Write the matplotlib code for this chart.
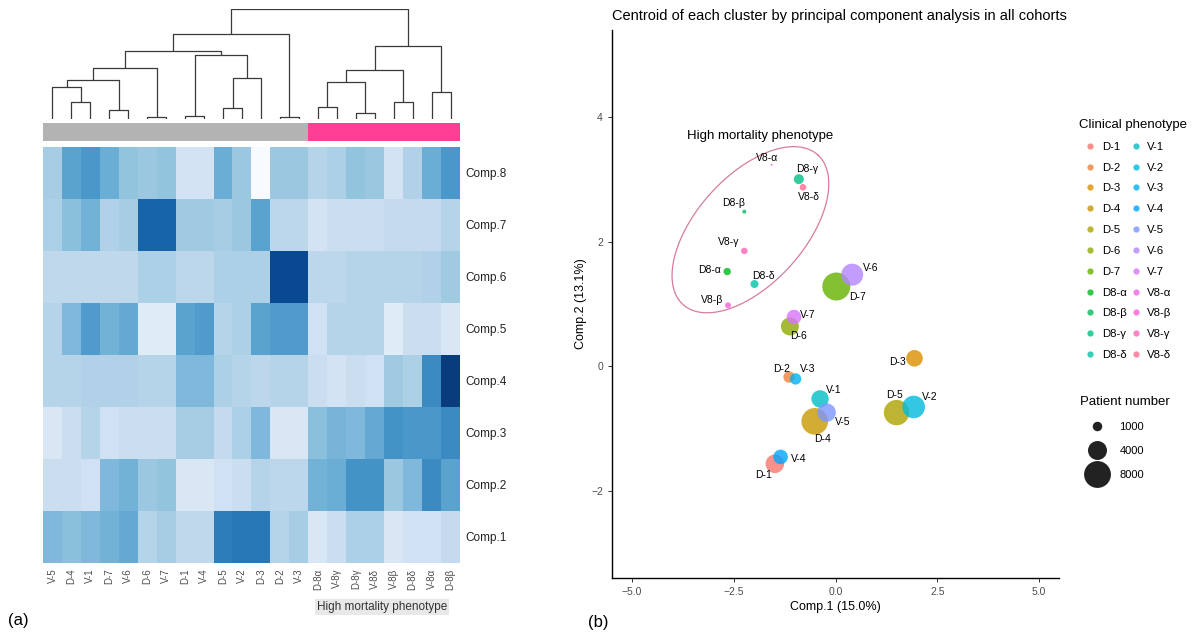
import numpy as np
import matplotlib
matplotlib.use('Agg')
import matplotlib.pyplot as plt
from matplotlib.lines import Line2D

plt.rcParams['font.family'] = ['Liberation Sans', 'DejaVu Sans']

# ---------------- panel (a): heatmap data ----------------
samples = ['V-5', 'D-4', 'V-1', 'D-7', 'V-6', 'D-6', 'V-7', 'D-1', 'V-4', 'D-5', 'V-2',
           'D-3', 'D-2', 'V-3', 'D-8α', 'V-8γ', 'D-8γ', 'V-8δ', 'V-8β', 'D-8δ', 'V-8α', 'D-8β']
high_mortality = [0] * 14 + [1] * 8
components = ['Comp.1', 'Comp.2', 'Comp.3', 'Comp.4', 'Comp.5', 'Comp.6', 'Comp.7', 'Comp.8']

comp1 = [0.45, 0.42, 0.45, 0.48, 0.52, 0.30, 0.35, 0.27, 0.27, 0.70, 0.72, 0.72, 0.30, 0.35,
         0.15, 0.22, 0.33, 0.33, 0.15, 0.20, 0.20, 0.25]
comp2 = [0.22, 0.22, 0.20, 0.45, 0.48, 0.38, 0.40, 0.15, 0.15, 0.20, 0.22, 0.30, 0.28, 0.28,
         0.48, 0.50, 0.62, 0.62, 0.38, 0.45, 0.65, 0.55]
comp3 = [0.15, 0.22, 0.30, 0.20, 0.22, 0.22, 0.22, 0.35, 0.35, 0.25, 0.33, 0.45, 0.15, 0.15,
         0.42, 0.47, 0.45, 0.52, 0.62, 0.60, 0.60, 0.65]
comp4 = [0.30, 0.30, 0.32, 0.32, 0.32, 0.30, 0.30, 0.45, 0.45, 0.33, 0.30, 0.28, 0.30, 0.30,
         0.22, 0.18, 0.22, 0.20, 0.37, 0.33, 0.65, 0.95]
comp5 = [0.30, 0.45, 0.58, 0.48, 0.52, 0.12, 0.12, 0.55, 0.58, 0.30, 0.33, 0.55, 0.58, 0.58,
         0.20, 0.30, 0.30, 0.30, 0.12, 0.22, 0.22, 0.15]
comp6 = [0.27, 0.27, 0.27, 0.27, 0.27, 0.33, 0.33, 0.28, 0.28, 0.33, 0.33, 0.33, 0.90, 0.90,
         0.28, 0.28, 0.30, 0.30, 0.30, 0.30, 0.32, 0.37]
comp7 = [0.33, 0.42, 0.48, 0.32, 0.35, 0.80, 0.80, 0.37, 0.37, 0.35, 0.38, 0.55, 0.28, 0.28,
         0.18, 0.22, 0.22, 0.22, 0.25, 0.25, 0.25, 0.30]
comp8 = [0.35, 0.55, 0.60, 0.50, 0.40, 0.38, 0.40, 0.18, 0.18, 0.50, 0.38, 0.00, 0.38, 0.38,
         0.30, 0.33, 0.40, 0.38, 0.18, 0.32, 0.50, 0.60]

# hierarchical clustering of the columns: (node a, node b, merge height); leaves are 0..21
linkage = [
    (1, 2, 50), (0, 22, 97), (3, 4, 27), (23, 24, 117), (5, 6, 7), (25, 26, 154),
    (7, 8, 10), (9, 10, 32), (29, 11, 122), (28, 30, 190), (27, 31, 202), (12, 13, 7),
    (32, 33, 254), (14, 15, 35), (16, 17, 19), (35, 36, 112), (18, 19, 50), (37, 38, 147),
    (20, 21, 82), (39, 40, 219), (34, 41, 329),
]

# ---------------- panel (b): PCA centroids ----------------
phenotypes = ['D-1', 'D-2', 'D-3', 'D-4', 'D-5', 'D-6', 'D-7', 'D8-α', 'D8-β', 'D8-γ', 'D8-δ',
              'V-1', 'V-2', 'V-3', 'V-4', 'V-5', 'V-6', 'V-7', 'V8-α', 'V8-β', 'V8-γ', 'V8-δ']
pc1 = [-1.49, -1.14, 1.94, -0.51, 1.50, -1.12, 0.02, -2.66, -2.24, -0.90, -1.99,
       -0.38, 1.92, -0.98, -1.35, -0.22, 0.41, -1.02, -1.57, -2.64, -2.24, -0.80]
pc2 = [-1.56, -0.17, 0.13, -0.88, -0.74, 0.64, 1.28, 1.52, 2.48, 3.00, 1.32,
       -0.52, -0.65, -0.20, -1.45, -0.74, 1.47, 0.79, 3.23, 0.98, 1.85, 2.87]
patients = [3840, 1440, 3060, 7860, 7170, 3600, 8710, 610, 180, 1110, 710,
            3360, 5680, 1440, 2370, 3840, 5380, 2370, 45, 400, 480, 480]
size_breaks = [1000, 4000, 8000]

# label offsets (pixels) for the point labels
label_offsets = {
    'D-1': (-11, -11), 'D-2': (-8, 8), 'D-3': (-17, -4), 'D-4': (8, -18), 'D-5': (-2, 18),
    'D-6': (9, -10), 'D-7': (21, -10), 'D8-α': (-18, 2), 'D8-β': (-11, 9), 'D8-γ': (8, 10),
    'D8-δ': (9, 8), 'V-1': (14, 9), 'V-2': (16, 10), 'V-3': (12, 10), 'V-4': (18, -2),
    'V-5': (16, -9), 'V-6': (19, 7), 'V-7': (14, 2), 'V8-α': (-5, 7), 'V8-β': (-16, 5),
    'V8-γ': (-16, 9), 'V8-δ': (6, -10),
}
# high mortality ellipse: centre (data), semi-axes in pixels, angle in degrees
ell_center = (-2.09, 2.19)
ell_axes = (100.7, 53.9)
ell_angle = 48


def hue_colors(n, l=65, c=100):
    # ggplot2 default hue palette (HCL -> sRGB)
    hues = 15 + np.arange(n) * 360 / n
    xn, yn, zn = 95.047, 100.0, 108.883
    un = 4 * xn / (xn + 15 * yn + 3 * zn)
    vn = 9 * yn / (xn + 15 * yn + 3 * zn)
    out = []
    for h in hues:
        u = c * np.cos(np.radians(h))
        v = c * np.sin(np.radians(h))
        y = yn * ((l + 16) / 116) ** 3
        up = u / (13 * l) + un
        vp = v / (13 * l) + vn
        x = y * 9 * up / (4 * vp)
        z = y * (12 - 3 * up - 20 * vp) / (4 * vp)
        xyz = np.array([x, y, z]) / 100
        m = np.array([[3.2404542, -1.5371385, -0.4985314],
                      [-0.9692660, 1.8760108, 0.0415560],
                      [0.0556434, -0.2040259, 1.0572252]])
        rgb = m @ xyz
        rgb = np.where(rgb <= 0.0031308, 12.92 * rgb, 1.055 * np.power(np.clip(rgb, 0, None), 1 / 2.4) - 0.055)
        out.append(tuple(np.clip(rgb, 0, 1)))
    return out


def marker_area(n):
    return 0.0467 * np.asarray(n, dtype=float)


W, H = 1198, 636
fig = plt.figure(figsize=(W / 100, H / 100), dpi=100)


def px_axes(left, top, right, bottom):
    return fig.add_axes([left / W, 1 - bottom / H, (right - left) / W, (bottom - top) / H])


# ---- dendrogram ----
ax_d = px_axes(43, 9, 460, 119)
ncol = len(samples)
node_x = {i: i + 0.5 for i in range(ncol)}
node_h = {i: 0.0 for i in range(ncol)}
for k, (a, b, h) in enumerate(linkage):
    idx = ncol + k
    xa, xb = node_x[a], node_x[b]
    ax_d.plot([xa, xa, xb, xb], [node_h[a], h, h, node_h[b]], color='#3a3a3a', lw=0.9,
              solid_capstyle='butt')
    node_x[idx] = (xa + xb) / 2
    node_h[idx] = h
ax_d.set_xlim(0, ncol)
ax_d.set_ylim(0, max(h for _, _, h in linkage))
ax_d.axis('off')

# ---- annotation strip ----
ax_s = px_axes(43, 123, 460, 141)
strip_colors = ['#B3B3B3' if g == 0 else '#FF3E96' for g in high_mortality]
ax_s.bar(np.arange(ncol) + 0.5, 1, width=1.0, color=strip_colors, edgecolor='none')
ax_s.set_xlim(0, ncol)
ax_s.set_ylim(0, 1)
ax_s.axis('off')

# ---- heatmap ----
ax_h = px_axes(43, 147, 460, 563)
rows = [comp8, comp7, comp6, comp5, comp4, comp3, comp2, comp1]
ax_h.imshow(np.array(rows), cmap='Blues', vmin=0, vmax=1, aspect='auto',
            interpolation='nearest', extent=(0, ncol, len(rows), 0))
ax_h.set_xticks(np.arange(ncol) + 0.5)
ax_h.set_xticklabels(samples, rotation=90, fontsize=7, color='#4d4d4d')
ax_h.set_yticks(np.arange(len(rows)) + 0.5)
ax_h.set_yticklabels(components[::-1], fontsize=8.5, color='#222222')
ax_h.yaxis.tick_right()
ax_h.tick_params(length=0, pad=4)
for sp in ax_h.spines.values():
    sp.set_visible(False)

fig.text(382 / W, 1 - 607 / H, 'High mortality phenotype', fontsize=8.5, color='#333333',
         ha='center', va='center',
         bbox=dict(facecolor='#E8E8E8', edgecolor='none', boxstyle='square,pad=0.2'))
fig.text(8 / W, 1 - 620 / H, '(a)', fontsize=12, ha='left', va='center')
fig.text(588 / W, 1 - 622 / H, '(b)', fontsize=12, ha='left', va='center')

# ---- PCA scatter ----
ax = px_axes(612, 30, 1059, 578)
colors = hue_colors(len(phenotypes))
ax.scatter(pc1, pc2, s=marker_area(patients), c=colors, alpha=0.8, edgecolors='none', zorder=3)
ax.set_xlim(-5.49, 5.49)
ax.set_ylim(-3.39, 5.39)
ax.set_xticks([-5.0, -2.5, 0.0, 2.5, 5.0])
ax.set_xticklabels(['−5.0', '−2.5', '0.0', '2.5', '5.0'])
ax.set_yticks([-2, 0, 2, 4])
ax.set_yticklabels(['−2', '0', '2', '4'])
ax.tick_params(labelsize=7.5, labelcolor='#4d4d4d', color='#333333', length=3, width=0.7)
for side in ['top', 'right']:
    ax.spines[side].set_visible(False)
for side in ['left', 'bottom']:
    ax.spines[side].set_linewidth(1.0)
ax.set_xlabel('Comp.1 (15.0%)', fontsize=9, labelpad=3)
ax.set_ylabel('Comp.2 (13.1%)', fontsize=9, labelpad=3)
ax.set_title('Centroid of each cluster by principal component analysis in all cohorts',
             fontsize=10.5, loc='left', pad=7)

for name, x, y in zip(phenotypes, pc1, pc2):
    dx, dy = label_offsets[name]
    ax.annotate(name, (x, y), xytext=(dx, dy), textcoords='offset pixels',
                ha='center', va='center', fontsize=7.5, zorder=4)

# ellipse around high mortality phenotype (drawn in pixel space, mapped back to data)
t = np.linspace(0, 2 * np.pi, 300)
th = np.radians(ell_angle)
cx, cy = ax.transData.transform(ell_center)
ex = cx + ell_axes[0] * np.cos(t) * np.cos(th) - ell_axes[1] * np.sin(t) * np.sin(th)
ey = cy + ell_axes[0] * np.cos(t) * np.sin(th) + ell_axes[1] * np.sin(t) * np.cos(th)
ell = ax.transData.inverted().transform(np.column_stack([ex, ey]))
ax.plot(ell[:, 0], ell[:, 1], color='#D77BA0', lw=0.9, zorder=2)
ax.text(-1.86, 3.69, 'High mortality phenotype', fontsize=9.5, ha='center', va='center')

# ---- legends ----
handles = [Line2D([], [], marker='o', ls='none', markersize=4.5, markeredgewidth=0,
                  markerfacecolor=col, alpha=0.8) for col in colors]
leg1 = fig.legend(handles, phenotypes, ncol=2, title='Clinical phenotype', frameon=False,
                  loc='upper left', bbox_to_anchor=(1079 / W, 1 - 119 / H), fontsize=8.2,
                  title_fontsize=9.5, labelspacing=0.95, handlelength=2.0, handletextpad=0.0,
                  columnspacing=-0.2, borderaxespad=0, borderpad=0)
leg1._legend_box.align = 'left'

size_handles = [Line2D([], [], marker='o', ls='none', markersize=np.sqrt(marker_area(n)),
                       markeredgewidth=0, markerfacecolor='#222222') for n in size_breaks]
leg2 = fig.legend(size_handles, [str(n) for n in size_breaks], title='Patient number',
                  frameon=False, loc='upper left', bbox_to_anchor=(1080 / W, 1 - 396 / H),
                  fontsize=8, title_fontsize=9.5, labelspacing=1.25, handlelength=3.0,
                  handletextpad=0.55, borderaxespad=0, borderpad=0)
leg2._legend_box.align = 'left'

fig.savefig('out.png', dpi=100)
